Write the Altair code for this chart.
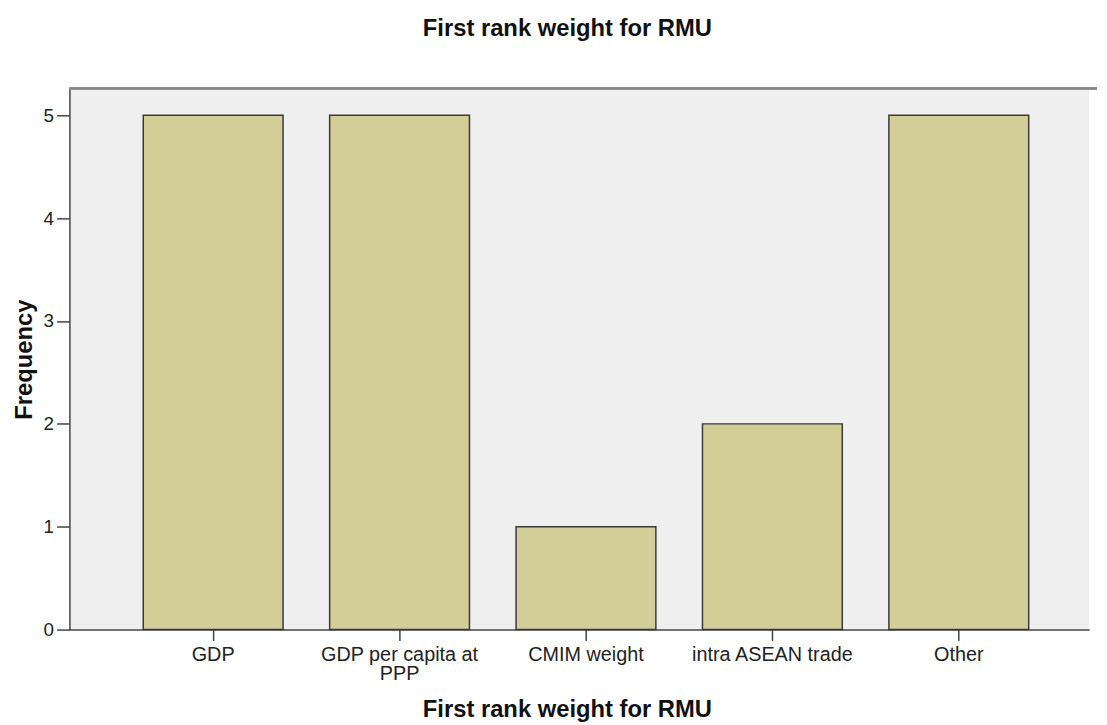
import altair as alt
import pandas as pd

categories = ["GDP", "GDP per capita at PPP", "CMIM weight", "intra ASEAN trade", "Other"]
frequency = [5, 5, 1, 2, 5]

df = pd.DataFrame({"category": categories, "frequency": frequency})

FONT = "Liberation Sans"
W, H = 1029, 546

bars = alt.Chart(df).mark_bar(
    fill="#d3ce97", stroke="#3a3a3a", strokeWidth=1.5
).encode(
    x=alt.X("category:N", sort=categories,
            scale=alt.Scale(paddingInner=0.25, paddingOuter=0.36, align=0.55),
            axis=alt.Axis(
                title="First rank weight for RMU", labelAngle=0,
                labelExpr="datum.label == 'GDP per capita at PPP' ? ['GDP per capita at', 'PPP'] : datum.label",
                labelLineHeight=19, labelFontSize=20, labelColor="#222",
                labelPadding=4, tickSize=11, tickColor="#444", tickWidth=1.5,
                domainColor="#444", domainWidth=1.5,
                titleFontSize=24, titleFontWeight="bold", titleColor="#111",
                titleX=502, titleY=81, titleBaseline="middle", titleAnchor="middle")),
    y=alt.Y("frequency:Q",
            scale=alt.Scale(domain=[0, 5.26], nice=False),
            axis=alt.Axis(
                title="Frequency", values=[0, 1, 2, 3, 4, 5], grid=False,
                labelFontSize=19, labelColor="#222", labelPadding=3,
                tickSize=13, tickColor="#444", tickWidth=1.5,
                domainColor="#444", domainWidth=1.5,
                titleFontSize=24, titleFontWeight="bold", titleColor="#111",
                titleX=-45, titleY=H / 2, titleBaseline="middle", titleAngle=-90)),
)

top_line = alt.Chart(df).mark_rule(color="#8a8a8a", strokeWidth=2).encode(
    x=alt.value(0), x2=alt.value(W + 8), y=alt.value(0)
)

chart = alt.layer(bars, top_line).properties(
    width=W, height=H,
    title=alt.TitleParams("First rank weight for RMU", fontSize=24, fontWeight="bold",
                          color="#111", anchor="middle", dx=-12, offset=47),
    autosize=alt.AutoSizeParams(type="none"),
    padding={"left": 62, "top": 78, "right": 10, "bottom": 93},
).configure(font=FONT).configure_view(fill="#efefef", stroke=None)

chart.save("out.html", embed_options={"renderer": "svg", "actions": False})
